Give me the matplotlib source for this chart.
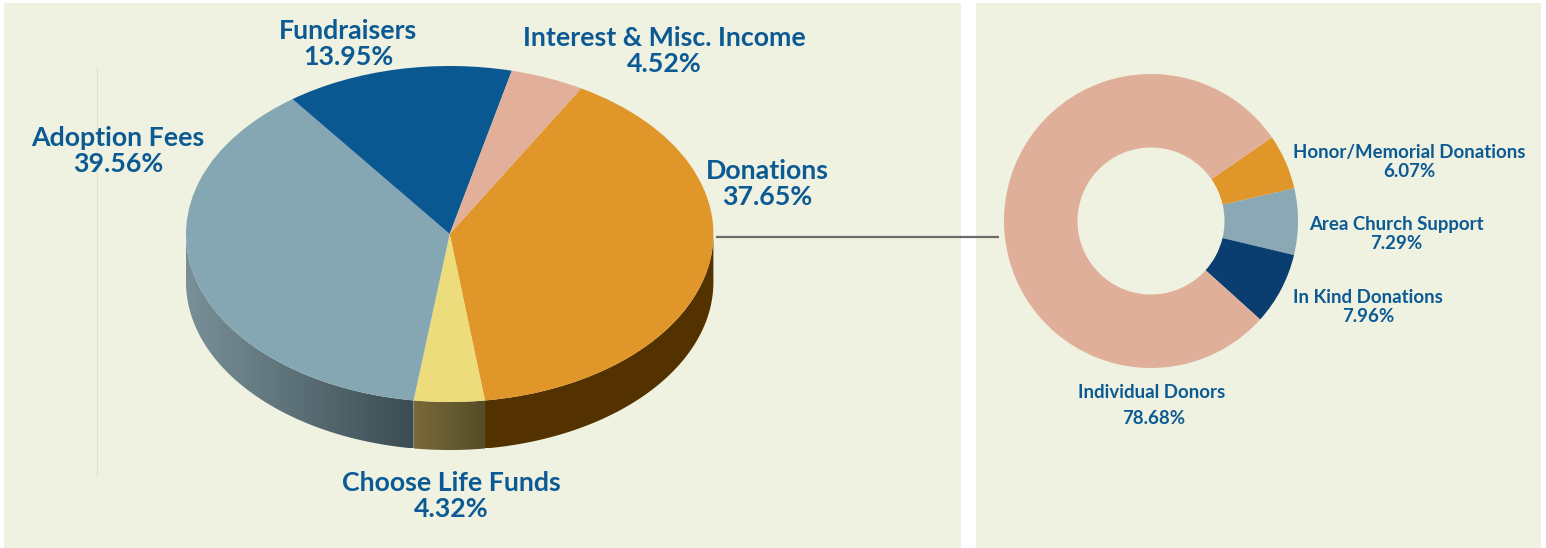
#!/usr/bin/env python3
"""
Revenue breakdown: tilted 3D style pie on the left, donations donut on the right.
"""

import numpy as np
import matplotlib
matplotlib.use('Agg')
import matplotlib.pyplot as plt
from matplotlib.patches import Polygon, Rectangle

# Printed labels for the big pie
pie_labels = ['Donations', 'Choose Life Funds', 'Adoption Fees', 'Fundraisers', 'Interest & Misc. Income']
pie_label_pcts = ['37.65%', '4.32%', '39.56%', '13.95%', '4.52%']
# Slice sizes as drawn in the picture (clockwise from the orange slice)
pie_slices = [39.56, 4.32, 37.65, 13.95, 4.52]
pie_colors = ['#e09628', '#ecdc7c', '#84a7b3', '#0a5892', '#e2b09a']

# Clockwise from the orange slice at the upper right
donut_labels = ['Honor/Memorial Donations', 'Area Church Support', 'In Kind Donations', 'Individual Donors']
donut_values = [6.07, 7.29, 7.96, 78.68]
donut_colors = ['#e09628', '#8aa9b5', '#0a3d70', '#e0af99']

BG = '#eff1e1'
TEXT = '#0b5a94'
W, H = 1546, 548

plt.rcParams['font.family'] = ['Lato', 'DejaVu Sans']

fig = plt.figure(figsize=(W / 100, H / 100), dpi=100)
ax = fig.add_axes([0, 0, 1, 1])


def reset_limits():
    ax.set_xlim(0, W)
    ax.set_ylim(H, 0)
    ax.set_aspect('auto')
    ax.axis('off')


reset_limits()

# Panels
ax.add_patch(Rectangle((4, 3), 957, 545, fc=BG, ec='none', zorder=0))
ax.add_patch(Rectangle((976, 3), 565, 545, fc=BG, ec='none', zorder=0))
ax.plot([96.5, 96.5], [66, 476.5], color='#e0e0dc', lw=0.8, solid_capstyle='butt', zorder=1)

# Big pie geometry, in pixels
cx, cy, rx, ry, depth = 449.7, 234, 263.7, 168, 48
start_angle = 29.9  # clockwise from top

fracs = np.cumsum([0] + pie_slices) / sum(pie_slices)
edges = start_angle + fracs * 360

# Side wall, only the part of each slice on the front half shows
side_shades = [
    ('#543200', '#543200'),
    ('#7a6a38', '#544c28'),
    ('#7a9098', '#3b4d53'),
]
for i, (c0, c1) in enumerate(side_shades):
    a0 = max(edges[i], 90)
    a1 = min(edges[i + 1], 270)
    t = np.radians(np.linspace(a0, a1, 200))
    xs = cx + rx * np.sin(t)
    ys = cy - ry * np.cos(t)
    verts = np.r_[np.c_[xs, ys], np.c_[xs, ys + depth][::-1]]
    poly = Polygon(verts, fc='none', ec='none', zorder=2)
    ax.add_patch(poly)
    rgb0 = np.array(matplotlib.colors.to_rgb(c0))
    rgb1 = np.array(matplotlib.colors.to_rgb(c1))
    # gradient runs left to right, lighter side on the left
    ramp = np.linspace(0, 1, 256)[None, :, None]
    img = rgb0[None, None, :] * (1 - ramp) + rgb1[None, None, :] * ramp
    im = ax.imshow(img, extent=(xs.min(), xs.max(), ys.max() + depth, ys.min()),
                   aspect='auto', zorder=2, interpolation='bilinear')
    im.set_clip_path(poly)

# Big pie top face, squashed by using a non equal axes
ax_top = fig.add_axes([(cx - rx) / W, 1 - (cy + ry) / H, 2 * rx / W, 2 * ry / H])
ax_top.pie(pie_slices, colors=pie_colors, startangle=90 - start_angle,
           counterclock=False, radius=1, wedgeprops={'linewidth': 0})
ax_top.set_xlim(-1, 1)
ax_top.set_ylim(-1, 1)
ax_top.set_aspect('auto')
ax_top.patch.set_visible(False)

# Donut
dcx, dcy, dr = 1151, 221, 147
ax_d = fig.add_axes([(dcx - dr) / W, 1 - (dcy + dr) / H, 2 * dr / W, 2 * dr / H])
ax_d.pie(donut_values, colors=donut_colors, startangle=90 - 55.3,
         counterclock=False, radius=1,
         wedgeprops={'width': 0.5, 'linewidth': 0})
ax_d.set_xlim(-1, 1)
ax_d.set_ylim(-1, 1)
ax_d.patch.set_visible(False)

# Leader line
ax.plot([716, 999], [237, 237], color='#6b6b68', lw=1.6, solid_capstyle='butt', zorder=3)

reset_limits()

# Big pie labels: name x, name y, pct x, pct y
big_pos = [(767, 171, 767, 197), (451, 483, 451, 509), (118, 138, 118, 164),
           (348, 31, 348, 57), (664, 38, 664, 64)]
for name, pct, (x0, y0, x1, y1) in zip(pie_labels, pie_label_pcts, big_pos):
    ax.text(x0, y0, name, ha='center', va='center', color=TEXT, fontsize=19.3, fontweight='bold', zorder=5)
    ax.text(x1, y1, pct, ha='center', va='center', color=TEXT, fontsize=19.3, fontweight='bold', zorder=5)

small_pos = [(1409.5, 152.5, 1409.5, 171.5), (1396.5, 224.5, 1396.5, 243.5),
             (1368, 297.5, 1368, 316.5), (1152, 392.5, 1153.5, 418.5)]
donut_pcts = [f'{v:.2f}%' for v in donut_values]
for name, pct, (x0, y0, x1, y1) in zip(donut_labels, donut_pcts, small_pos):
    ax.text(x0, y0, name, ha='center', va='center', color=TEXT, fontsize=13.4, fontweight='bold', zorder=5)
    ax.text(x1, y1, pct, ha='center', va='center', color=TEXT, fontsize=13.4, fontweight='bold', zorder=5)

fig.savefig('out.png', dpi=100, facecolor='white')
